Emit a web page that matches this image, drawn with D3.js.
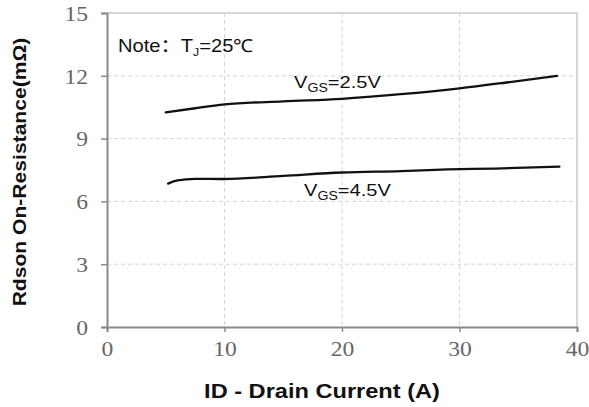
<!DOCTYPE html>
<html lang="en">
<head>
  <meta charset="utf-8">
  <title>Rdson vs ID</title>
  <script src="https://d3js.org/d3.v7.min.js"></script>
  <style>
    body { margin: 0; background: #fff; }
  </style>
</head>
<body>

<svg width="589" height="407"></svg>

<script>
  // Data
  const xTicks = [0, 10, 20, 30, 40];
  const yTicks = [0, 3, 6, 9, 12, 15];
  const vgs25 = [[5, 10.25], [7.5, 10.45], [10, 10.63], [15, 10.78], [20, 10.9], [25, 11.12], [30, 11.4], [34, 11.68], [38.3, 12.0]];
  const vgs45 = [[5.2, 6.85], [6, 7.0], [7.5, 7.08], [10, 7.07], [15, 7.22], [20, 7.38], [25, 7.45], [29, 7.53], [33, 7.57], [38.5, 7.66]];

  const svg = d3.select("svg");
  const margin = { left: 107, top: 13, right: 12, bottom: 80 };
  const width = +svg.attr("width") - margin.left - margin.right;
  const height = +svg.attr("height") - margin.top - margin.bottom;
  const sx = 1.18; // the original is a bit wide, stretch text the same way

  const g = svg.append("g").attr("transform", `translate(${margin.left},${margin.top})`);

  const x = d3.scaleLinear().domain([0, 40]).range([0, width]);
  const y = d3.scaleLinear().domain([0, 15]).range([height, 0]);

  // Grid
  g.selectAll(".vgrid").data(xTicks.slice(1, -1)).join("line")
    .attr("x1", d => x(d)).attr("x2", d => x(d))
    .attr("y1", 0).attr("y2", height)
    .attr("stroke", "#d4d4d4").attr("stroke-dasharray", "4,3");
  g.selectAll(".hgrid").data(yTicks.slice(1, -1)).join("line")
    .attr("x1", 0).attr("x2", width)
    .attr("y1", d => y(d)).attr("y2", d => y(d))
    .attr("stroke", "#d4d4d4").attr("stroke-dasharray", "4,3");

  // Frame top and right
  g.append("line").attr("x1", 0).attr("x2", width).attr("y1", 0).attr("y2", 0)
    .attr("stroke", "#c8c8c8").attr("stroke-width", 1.5);
  g.append("line").attr("x1", width).attr("x2", width).attr("y1", 0).attr("y2", height)
    .attr("stroke", "#c8c8c8").attr("stroke-width", 1.5);

  // Axes
  const xAxis = g.append("g").attr("transform", `translate(0,${height})`)
    .call(d3.axisBottom(x).tickValues(xTicks).tickSize(5).tickPadding(10));
  const yAxis = g.append("g")
    .call(d3.axisLeft(y).tickValues(yTicks).tickSize(6).tickPadding(13));

  [xAxis, yAxis].forEach(a => {
    a.select(".domain").attr("stroke", "#8a8a8a").attr("stroke-width", 2);
    a.selectAll(".tick line").attr("stroke", "#8a8a8a").attr("stroke-width", 1.5);
    a.selectAll(".tick text")
      .attr("fill", "#666")
      .style("font-family", "'Liberation Serif', 'DejaVu Serif', serif")
      .style("font-size", "20px");
  });
  xAxis.selectAll(".tick text").attr("transform", `scale(${sx},1)`);
  yAxis.selectAll(".tick text")
    .attr("dy", "0.36em")
    .attr("x", 0)
    .attr("transform", `translate(-19,0) scale(${sx},1)`);

  // Curves
  const line = d3.line()
    .x(d => x(d[0]))
    .y(d => y(d[1]))
    .curve(d3.curveMonotoneX);

  [vgs25, vgs45].forEach(s => {
    g.append("path")
      .datum(s)
      .attr("d", line)
      .attr("fill", "none")
      .attr("stroke", "#111")
      .attr("stroke-width", 2.3)
      .attr("stroke-linecap", "round");
  });

  const font = "'Liberation Sans', Arial, sans-serif";

  // Curve labels
  function vgsLabel(px, py, val) {
    const t = svg.append("text")
      .attr("transform", `translate(${px},${py}) scale(${sx},1)`)
      .style("font-family", font).style("font-size", "17px").attr("fill", "#111");
    t.append("tspan").text("V");
    t.append("tspan").attr("dy", 4).style("font-size", "12px").text("GS");
    t.append("tspan").attr("dy", -4).text("=" + val);
  }
  vgsLabel(294, 88, "2.5V");
  vgsLabel(304, 196, "4.5V");

  // Note
  const note = svg.append("text")
    .attr("transform", `translate(118,52) scale(1.12,1)`)
    .style("font-family", font).style("font-size", "18px").attr("fill", "#111");
  note.append("tspan").text("Note");
  note.append("tspan").style("font-family", "'Noto Sans CJK SC', sans-serif").text("：");
  note.append("tspan").text("T");
  note.append("tspan").attr("dy", 4).style("font-size", "11px").text("J");
  note.append("tspan").attr("dy", -4).text("=25℃");

  // Axis titles
  svg.append("text")
    .attr("transform", `translate(322,398) scale(${sx},1)`)
    .attr("text-anchor", "middle")
    .style("font-family", font).style("font-size", "20px").style("font-weight", "bold")
    .attr("fill", "#111")
    .text("ID - Drain Current (A)");

  svg.append("text")
    .attr("transform", "translate(26,172) rotate(-90) scale(1.11,1)")
    .attr("text-anchor", "middle")
    .style("font-family", font).style("font-size", "19px").style("font-weight", "bold")
    .attr("fill", "#111")
    .text("Rdson On-Resistance(mΩ)");
</script>
</body>
</html>
